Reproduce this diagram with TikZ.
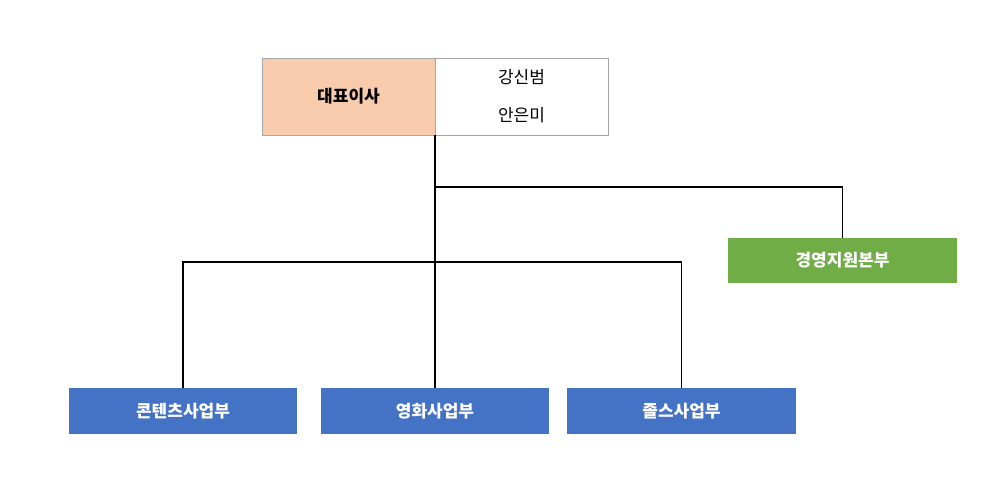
\documentclass[tikz,border=0pt]{standalone}
\usepackage{fontspec}
\setmainfont{Noto Sans CJK KR}
\begin{document}
\begin{tikzpicture}[x=1pt,y=-1pt,
  box/.style={draw=none,minimum height=46pt,inner sep=0pt,text=white,font=\fontsize{17}{20}\selectfont\bfseries},
  line/.style={draw=black,line width=1.2pt}]
\useasboundingbox (0,0) rectangle (994,500);
\fill[white] (0,0) rectangle (994,500);
\node[draw=gray!70,fill={rgb,255:red,248;green,203;blue,173},minimum width=173pt,minimum height=77pt,inner sep=0pt,font=\fontsize{17}{20}\selectfont\bfseries] (ceo) at (348.5,96.5) {대표이사};
\node[draw=gray!70,fill=white,minimum width=173pt,minimum height=77pt,inner sep=0pt,align=center,font=\fontsize{17}{38}\selectfont] (names) at (521.5,96.5) {강신범\\안은미};
\node[box,fill={rgb,255:red,112;green,173;blue,71},minimum width=229pt,minimum height=45pt] (mg) at (842.5,260.5) {경영지원본부};
\node[box,fill={rgb,255:red,68;green,114;blue,196},minimum width=228pt] (ct) at (183,411) {콘텐츠사업부};
\node[box,fill={rgb,255:red,68;green,114;blue,196},minimum width=228pt] (mv) at (435,411) {영화사업부};
\node[box,fill={rgb,255:red,68;green,114;blue,196},minimum width=229pt] (gd) at (681.5,411) {졸스사업부};
\coordinate (j1) at (435,187);
\coordinate (j2) at (435,262);
\draw[line] (435,135) -- (mv.north);
\draw[line] (j1) -| (mg.north);
\draw[line] (j2) -| (ct.north);
\draw[line] (j2) -| (gd.north);
\end{tikzpicture}
\end{document}
